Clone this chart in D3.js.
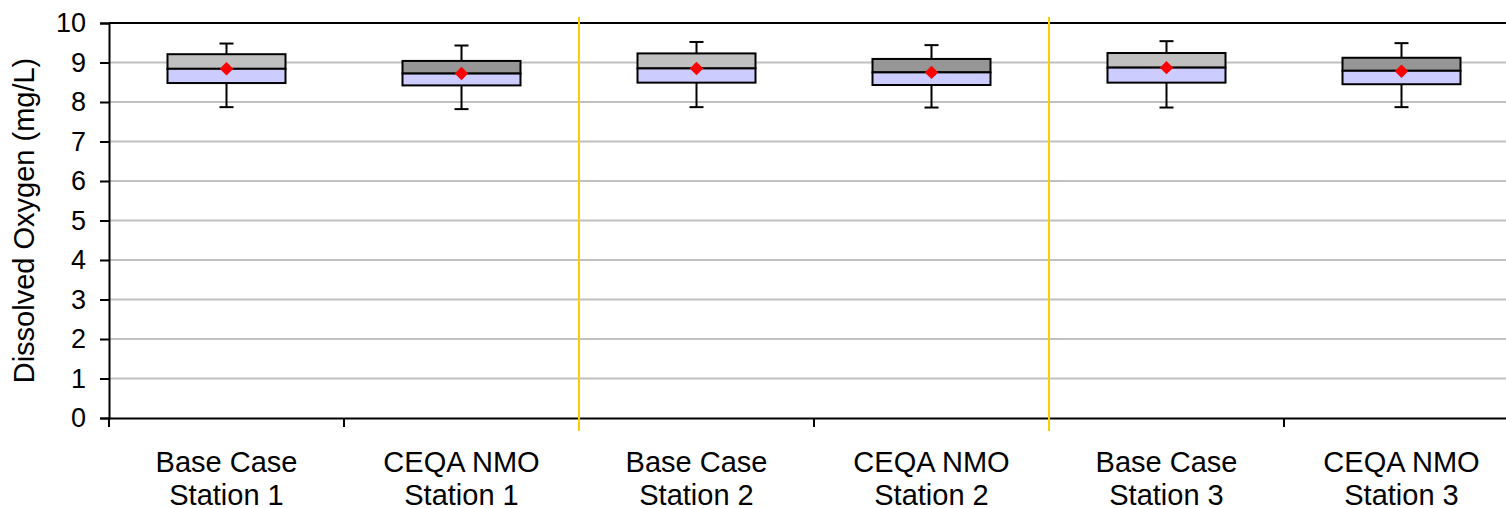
<!DOCTYPE html>
<html>
<head>
<meta charset="utf-8">
<script src="https://cdn.jsdelivr.net/npm/d3@7"></script>
<style>
  html, body { margin: 0; padding: 0; background: #fff; }
  svg { display: block; }
  text { font-family: "Liberation Sans", Arial, sans-serif; fill: #000; }
</style>
</head>
<body>
<svg id="chart" width="1506" height="508"></svg>
<script>
const categories = ["Base Case|Station 1", "CEQA NMO|Station 1", "Base Case|Station 2", "CEQA NMO|Station 2", "Base Case|Station 3", "CEQA NMO|Station 3"];
const whiskerLow  = [7.87, 7.82, 7.87, 7.86, 7.86, 7.87];
const q1          = [8.48, 8.42, 8.49, 8.43, 8.49, 8.45];
const median      = [8.84, 8.72, 8.85, 8.75, 8.87, 8.79];
const q3          = [9.21, 9.04, 9.23, 9.09, 9.24, 9.12];
const whiskerHigh = [9.48, 9.43, 9.52, 9.44, 9.54, 9.49];
const mean        = [8.84, 8.72, 8.85, 8.75, 8.87, 8.78];
const scenario    = ["Base Case", "CEQA NMO", "Base Case", "CEQA NMO", "Base Case", "CEQA NMO"];
const yTicks      = [0, 1, 2, 3, 4, 5, 6, 7, 8, 9, 10];
const separators  = [2, 4]; // category index where a station group begins

(function () {
const upperColor = d3.scaleOrdinal().domain(["Base Case", "CEQA NMO"]).range(["#C0C0C0", "#969696"]);
const lowerColor = "#CCCCFF";

const svg = d3.select("#chart");
const mLeft = 109, mTop = 23, mBottom = 418, band = 235;
const x = d3.scaleBand().domain(categories).range([mLeft, mLeft + band * categories.length]).padding(0);
const y = d3.scaleLinear().domain([0, 10]).range([mBottom, mTop]);
const fs = 29, fsTick = 27;

// gridlines
svg.append("g").selectAll("line").data(yTicks.filter(t => t > 0 && t < 10)).join("line")
  .attr("x1", mLeft).attr("x2", 1506)
  .attr("y1", d => y(d)).attr("y2", d => y(d))
  .attr("stroke", "#C0C0C0").attr("stroke-width", 2);

// top border line
svg.append("line").attr("x1", mLeft).attr("x2", 1506).attr("y1", y(10)).attr("y2", y(10))
  .attr("stroke", "#000").attr("stroke-width", 2);

// y axis
const yAxis = svg.append("g").attr("transform", `translate(${mLeft},0)`)
  .call(d3.axisLeft(y).tickValues(yTicks).tickSize(9).tickPadding(14).tickFormat(d3.format("d")));
yAxis.select(".domain").attr("stroke", "#000").attr("stroke-width", 2);
yAxis.selectAll(".tick line").attr("stroke", "#000").attr("stroke-width", 2);
yAxis.selectAll(".tick text").attr("font-size", fsTick).attr("font-family", "Liberation Sans, Arial, sans-serif").attr("fill", "#000");

// x axis
const xAxis = svg.append("g").attr("transform", `translate(0,${mBottom})`)
  .call(d3.axisBottom(x).tickSize(0).tickFormat(""));
xAxis.select(".domain").attr("stroke", "#000").attr("stroke-width", 2);
const boundaries = d3.range(categories.length + 1).map(i => mLeft + i * x.bandwidth());
svg.append("g").selectAll("line").data(boundaries).join("line")
  .attr("x1", d => d).attr("x2", d => d).attr("y1", mBottom).attr("y2", mBottom + 9)
  .attr("stroke", "#000").attr("stroke-width", 2);

// x labels
const lbl = svg.append("g").selectAll("text").data(categories).join("text")
  .attr("x", d => x(d) + x.bandwidth() / 2).attr("y", 472)
  .attr("text-anchor", "middle").attr("font-size", fs);
lbl.selectAll("tspan").data(d => d.split("|")).join("tspan")
  .attr("x", function () { return d3.select(this.parentNode).attr("x"); })
  .attr("dy", (d, i) => i === 0 ? 0 : 33).text(d => d);

// separators
svg.append("g").selectAll("line").data(separators).join("line")
  .attr("x1", d => x(categories[d])).attr("x2", d => x(categories[d]))
  .attr("y1", 17).attr("y2", 431)
  .attr("stroke", "#FFCC00").attr("stroke-width", 2);

// boxes
const bw = 118;
const g = svg.append("g").selectAll("g").data(categories).join("g")
  .attr("transform", d => `translate(${x(d) + x.bandwidth() / 2},0)`);
g.append("line").attr("x1", 0).attr("x2", 0)
  .attr("y1", (d, i) => y(whiskerHigh[i])).attr("y2", (d, i) => y(q3[i]))
  .attr("stroke", "#000").attr("stroke-width", 2);
g.append("line").attr("x1", 0).attr("x2", 0)
  .attr("y1", (d, i) => y(q1[i])).attr("y2", (d, i) => y(whiskerLow[i]))
  .attr("stroke", "#000").attr("stroke-width", 2);
g.append("line").attr("x1", -7).attr("x2", 7)
  .attr("y1", (d, i) => y(whiskerHigh[i])).attr("y2", (d, i) => y(whiskerHigh[i]))
  .attr("stroke", "#000").attr("stroke-width", 2);
g.append("line").attr("x1", -7).attr("x2", 7)
  .attr("y1", (d, i) => y(whiskerLow[i])).attr("y2", (d, i) => y(whiskerLow[i]))
  .attr("stroke", "#000").attr("stroke-width", 2);
g.append("rect").attr("x", -bw / 2).attr("width", bw)
  .attr("y", (d, i) => y(q3[i])).attr("height", (d, i) => y(median[i]) - y(q3[i]))
  .attr("fill", (d, i) => upperColor(scenario[i])).attr("stroke", "#000").attr("stroke-width", 2);
g.append("rect").attr("x", -bw / 2).attr("width", bw)
  .attr("y", (d, i) => y(median[i])).attr("height", (d, i) => y(q1[i]) - y(median[i]))
  .attr("fill", lowerColor).attr("stroke", "#000").attr("stroke-width", 2);
g.append("path").attr("d", d3.symbol().type(d3.symbolSquare).size(90))
  .attr("transform", (d, i) => `translate(0,${y(mean[i])}) rotate(45)`)
  .attr("fill", "#FF0000");

// y title
svg.append("text").attr("transform", `translate(34,${(mTop + mBottom) / 2}) rotate(-90)`)
  .attr("text-anchor", "middle").attr("font-size", fs).text("Dissolved Oxygen (mg/L)");
})();
</script>
</body>
</html>
